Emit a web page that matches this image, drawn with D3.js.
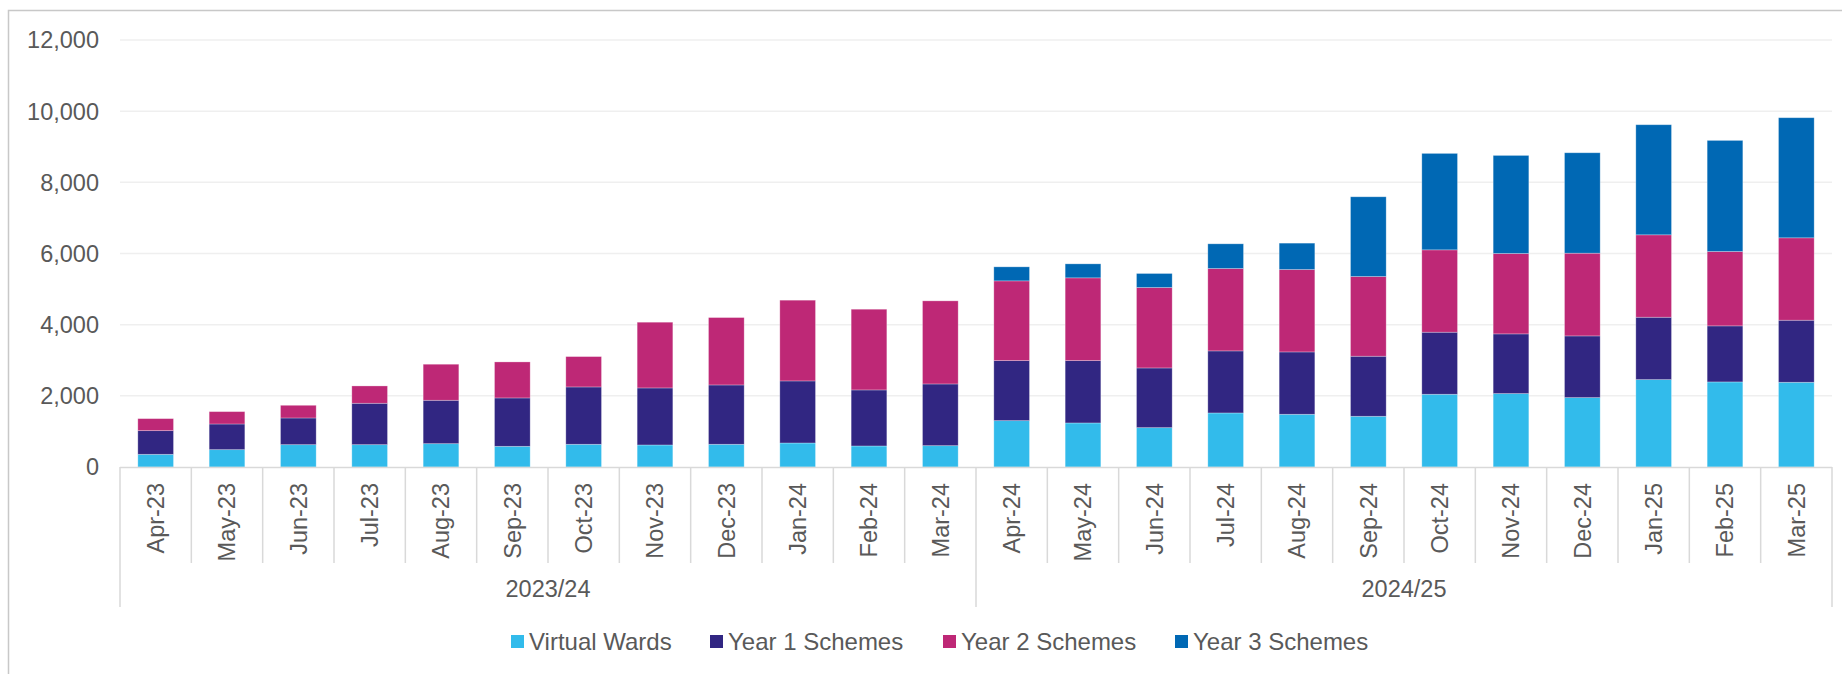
<!DOCTYPE html>
<html>
<head>
<meta charset="utf-8">
<script src="https://cdn.jsdelivr.net/npm/d3@7"></script>
<style>
  html, body { margin: 0; padding: 0; background: #fff; }
  svg { display: block; font-family: "Liberation Sans", Arial, sans-serif; }
</style>
</head>
<body>
<div id="chart"></div>
<script>
var months = ["Apr-23","May-23","Jun-23","Jul-23","Aug-23","Sep-23","Oct-23","Nov-23","Dec-23","Jan-24","Feb-24","Mar-24",
              "Apr-24","May-24","Jun-24","Jul-24","Aug-24","Sep-24","Oct-24","Nov-24","Dec-24","Jan-25","Feb-25","Mar-25"];
var years = ["2023/24", "2024/25"];
var seriesNames = ["Virtual Wards", "Year 1 Schemes", "Year 2 Schemes", "Year 3 Schemes"];

var virtualWards = [356, 488, 628, 628, 656, 581, 638, 619, 638, 675, 591, 600,
                    1303, 1238, 1106, 1519, 1481, 1425, 2044, 2063, 1950, 2456, 2391, 2381];
var year1 = [666, 721, 750, 1163, 1219, 1360, 1612, 1603, 1668, 1744, 1575, 1734,
             1688, 1753, 1678, 1744, 1753, 1688, 1744, 1678, 1734, 1753, 1575, 1744];
var year2 = [337, 347, 356, 487, 1013, 1012, 853, 1847, 1894, 2269, 2268, 2335,
             2240, 2325, 2260, 2315, 2316, 2240, 2315, 2259, 2325, 2316, 2090, 2316];
var year3 = [0, 0, 0, 0, 0, 0, 0, 0, 0, 0, 0, 0,
             394, 393, 394, 694, 741, 2241, 2710, 2756, 2822, 3094, 3122, 3375];
var yTicks = [0, 2000, 4000, 6000, 8000, 10000, 12000];

var colors = ["#32BBEB", "#312682", "#BE2876", "#0068B4"];

var W = 1842, H = 674;
var plotLeft = 120, plotRight = 1832, plotTop = 40, plotBottom = 467;

var table = months.map(function(m, i) {
    return { month: m, s0: virtualWards[i], s1: year1[i], s2: year2[i], s3: year3[i] };
});

var svg = d3.select("#chart").append("svg")
    .attr("width", W)
    .attr("height", H);

// outer frame
svg.append("rect")
    .attr("x", 8.5).attr("y", 10.5)
    .attr("width", W).attr("height", H)
    .attr("fill", "none")
    .attr("stroke", "#c8c8c8")
    .attr("stroke-width", 1.5);

var x = d3.scaleBand().domain(months).range([plotLeft, plotRight]).paddingInner(0.5).paddingOuter(0.25);
var y = d3.scaleLinear().domain([0, 12000]).range([plotBottom, plotTop]);
var step = x.step();

// gridlines
svg.append("g").selectAll("line")
    .data(yTicks.slice(1))
    .enter().append("line")
    .attr("x1", plotLeft).attr("x2", plotRight)
    .attr("y1", function(d) { return y(d); })
    .attr("y2", function(d) { return y(d); })
    .attr("stroke", "#efefef")
    .attr("stroke-width", 1.5);

// y labels
svg.append("g").selectAll("text")
    .data(yTicks)
    .enter().append("text")
    .attr("x", 99)
    .attr("y", function(d) { return y(d); })
    .attr("dy", "0.36em")
    .attr("text-anchor", "end")
    .attr("fill", "#595959")
    .style("font-size", "23.5px")
    .text(function(d) { return d3.format(",")(d); });

var stack = d3.stack().keys(["s0", "s1", "s2", "s3"]);
var layers = stack(table);

svg.append("g").selectAll("g")
    .data(layers)
    .enter().append("g")
    .attr("fill", function(d, i) { return colors[i]; })
    .selectAll("rect")
    .data(function(d) { return d.filter(function(p) { return p[1] - p[0] > 0; }); })
    .enter().append("rect")
    .attr("x", function(d) { return x(d.data.month); })
    .attr("width", x.bandwidth())
    .attr("y", function(d) { return y(d[1]); })
    .attr("height", function(d) { return y(d[0]) - y(d[1]); })
    .attr("stroke", "#ffffff")
    .attr("stroke-opacity", 0.35)
    .attr("stroke-width", 0.8);

// category axis
svg.append("line")
    .attr("x1", plotLeft).attr("x2", plotRight)
    .attr("y1", plotBottom + 0.5).attr("y2", plotBottom + 0.5)
    .attr("stroke", "#d9d9d9")
    .attr("stroke-width", 1.5);

var ticks = d3.range(months.length + 1);
svg.append("g").selectAll("line")
    .data(ticks)
    .enter().append("line")
    .attr("x1", function(d) { return plotLeft + d * step; })
    .attr("x2", function(d) { return plotLeft + d * step; })
    .attr("y1", plotBottom)
    .attr("y2", function(d) { return d % 12 == 0 ? 607 : 563; })
    .attr("stroke", "#d9d9d9")
    .attr("stroke-width", 1.5);

svg.append("g").selectAll("text")
    .data(months)
    .enter().append("text")
    .attr("transform", function(d) {
        return "translate(" + (x(d) + x.bandwidth() / 2) + ",483) rotate(-90)";
    })
    .attr("dy", "0.36em")
    .attr("text-anchor", "end")
    .attr("fill", "#595959")
    .style("font-size", "23.5px")
    .text(function(d) { return d; });

svg.append("g").selectAll("text")
    .data(years)
    .enter().append("text")
    .attr("x", function(d, i) { return plotLeft + (i * 12 + 6) * step; })
    .attr("y", 589)
    .attr("dy", "0.36em")
    .attr("text-anchor", "middle")
    .attr("fill", "#595959")
    .style("font-size", "23.5px")
    .text(function(d) { return d; });

// legend
var legendX = [511, 710, 943, 1175];
var legend = svg.append("g").selectAll("g")
    .data(seriesNames)
    .enter().append("g")
    .attr("transform", function(d, i) { return "translate(" + legendX[i] + ",635)"; });

legend.append("rect")
    .attr("width", 13).attr("height", 13)
    .attr("fill", function(d, i) { return colors[i]; });

legend.append("text")
    .attr("x", 18)
    .attr("y", 6.5)
    .attr("dy", "0.36em")
    .attr("fill", "#595959")
    .style("font-size", "24px")
    .text(function(d) { return d; });
</script>
</body>
</html>
